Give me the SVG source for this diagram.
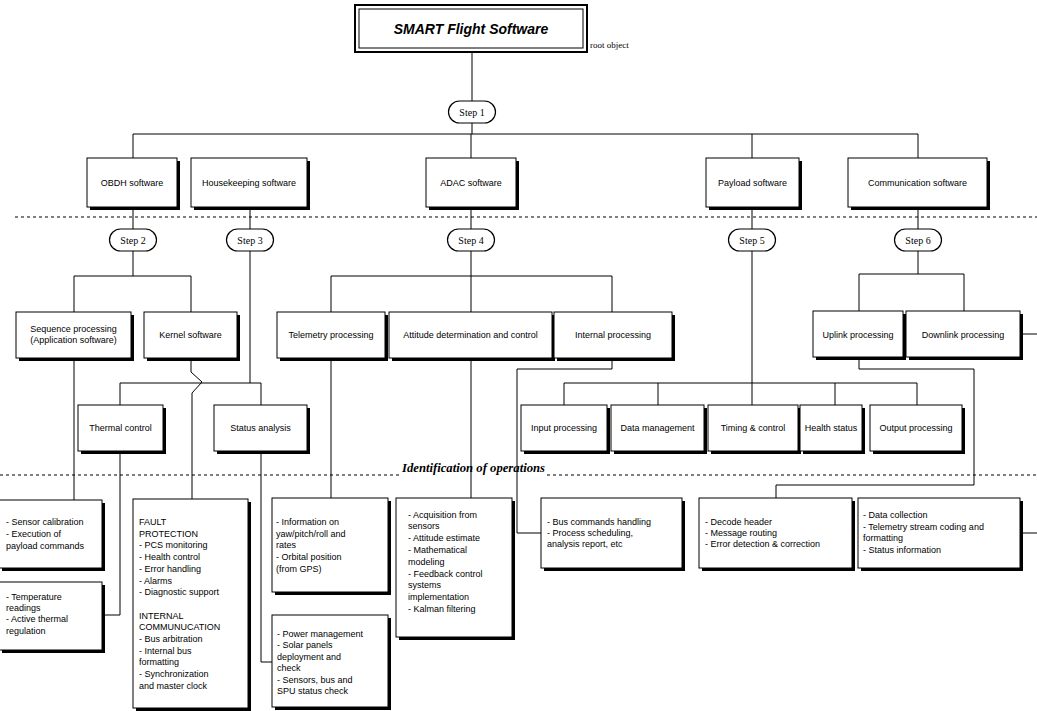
<svg xmlns="http://www.w3.org/2000/svg" width="1037" height="711" viewBox="0 0 1037 711">
<style>
.bx{fill:#fff;stroke:#000;stroke-width:1}
.sh{fill:#000}
.t{font-family:"Liberation Sans",Arial,sans-serif;font-size:9px;fill:#000}
.c{text-anchor:middle}
.st{font-family:"Liberation Serif","Times New Roman",serif;font-size:10px;text-anchor:middle;fill:#000}
.pill{fill:#fff;stroke:#000;stroke-width:1.2}
.ln{fill:none;stroke:#000;stroke-width:1}
.ds{fill:none;stroke:#000;stroke-width:1;stroke-dasharray:3,3}
</style>
<rect width="1037" height="711" fill="#fff"/>

<g id="connectors">
<path class="ln" d="M472 52V101M472 123V134M133 134H918M133 134V158M471 134V158M752 134V158M918 134V158"/>
<path class="ln" d="M133 207V229M250 207V229M471 207V229M752 207V229M918 207V229"/>
<path class="ln" d="M133 251V276M74 312V276H191V312"/>
<path class="ln" d="M250 251V383M120 406V383H261V406"/>
<path class="ln" d="M191 358V372L202 382L192 393V499"/>
<path class="ln" d="M74 358V500M120 451V615H102M261 451V662H272"/>
<path class="ln" d="M471 251V312M331 312V276H612V312"/>
<path class="ln" d="M331 358V498M471 358V498M612 358V369H517V533H541"/>
<path class="ln" d="M752 251V405M564 405V383H917V405M658 383V405M835 383V405"/>
<path class="ln" d="M918 251V274M859 312V274H964V312"/>
<path class="ln" d="M859 357V369H974V485H776V498"/>
<path class="ln" d="M1021 334H1037M1021 533H1037"/>
</g>

<g id="separators">
<path class="ds" d="M15 217H1037"/>
<path class="ds" d="M0 475H401M547 475H1037"/>
<text x="402" y="472" font-family="'Liberation Serif','Times New Roman',serif" font-size="12" font-style="italic" font-weight="bold" textLength="143" lengthAdjust="spacingAndGlyphs">Identification of operations</text>
</g>

<g id="root">
<rect x="355" y="5" width="232" height="47" fill="#fff" stroke="#000" stroke-width="2"/>
<rect x="359" y="9" width="224" height="39" fill="none" stroke="#000" stroke-width="1"/>
<text x="471" y="34" font-family="'Liberation Sans',Arial,sans-serif" font-size="14" font-weight="bold" font-style="italic" text-anchor="middle">SMART Flight Software</text>
<text x="590" y="48" font-family="'Liberation Serif','Times New Roman',serif" font-size="9">root object</text>
</g>

<g id="step1"><rect class="pill" x="448.5" y="101" width="47" height="22" rx="11"/><text class="st" x="472" y="115.5">Step 1</text></g>
<g id="step2"><rect class="pill" x="109.5" y="229" width="47" height="22" rx="11"/><text class="st" x="133" y="243.5">Step 2</text></g>
<g id="step3"><rect class="pill" x="226.5" y="229" width="47" height="22" rx="11"/><text class="st" x="250" y="243.5">Step 3</text></g>
<g id="step4"><rect class="pill" x="447.5" y="229" width="47" height="22" rx="11"/><text class="st" x="471" y="243.5">Step 4</text></g>
<g id="step5"><rect class="pill" x="728.5" y="229" width="47" height="22" rx="11"/><text class="st" x="752" y="243.5">Step 5</text></g>
<g id="step6"><rect class="pill" x="894.5" y="229" width="47" height="22" rx="11"/><text class="st" x="918" y="243.5">Step 6</text></g>

<g id="obdh"><rect class="sh" x="90" y="161" width="90" height="49"/><rect class="bx" x="87" y="158" width="90" height="49"/><text class="t c" x="132" y="186">OBDH software</text></g>
<g id="housekeeping"><rect class="sh" x="194" y="161" width="116" height="49"/><rect class="bx" x="191" y="158" width="116" height="49"/><text class="t c" x="249" y="186">Housekeeping software</text></g>
<g id="adac"><rect class="sh" x="429" y="161" width="90" height="49"/><rect class="bx" x="426" y="158" width="90" height="49"/><text class="t c" x="471" y="186">ADAC software</text></g>
<g id="payload"><rect class="sh" x="709" y="161" width="93" height="49"/><rect class="bx" x="706" y="158" width="93" height="49"/><text class="t c" x="752.5" y="186">Payload software</text></g>
<g id="communication"><rect class="sh" x="851" y="161" width="139" height="49"/><rect class="bx" x="848" y="158" width="139" height="49"/><text class="t c" x="917.5" y="186">Communication software</text></g>

<g id="sequence"><rect class="sh" x="19" y="315" width="115" height="46"/><rect class="bx" x="16" y="312" width="115" height="46"/><text class="t c" x="73.5" y="332">Sequence processing<tspan x="73.5" dy="11">(Application software)</tspan></text></g>
<g id="kernel"><rect class="sh" x="147" y="315" width="93" height="46"/><rect class="bx" x="144" y="312" width="93" height="46"/><text class="t c" x="190.5" y="338">Kernel software</text></g>
<g id="telemetry"><rect class="sh" x="280" y="315" width="108" height="46"/><rect class="bx" x="277" y="312" width="108" height="46"/><text class="t c" x="331" y="338">Telemetry processing</text></g>
<g id="attitude"><rect class="sh" x="392" y="315" width="163" height="46"/><rect class="bx" x="389" y="312" width="163" height="46"/><text class="t c" x="470.5" y="338">Attitude determination and control</text></g>
<g id="internal"><rect class="sh" x="557" y="315" width="118" height="46"/><rect class="bx" x="554" y="312" width="118" height="46"/><text class="t c" x="613" y="338">Internal processing</text></g>
<g id="uplink"><rect class="sh" x="816" y="314" width="90" height="46"/><rect class="bx" x="813" y="311" width="90" height="46"/><text class="t c" x="858" y="337.5">Uplink processing</text></g>
<g id="downlink"><rect class="sh" x="909" y="314" width="114" height="46"/><rect class="bx" x="906" y="311" width="114" height="46"/><text class="t c" x="963" y="337.5">Downlink processing</text></g>

<g id="thermal"><rect class="sh" x="81" y="408" width="85" height="46"/><rect class="bx" x="78" y="405" width="85" height="46"/><text class="t c" x="120.5" y="431">Thermal control</text></g>
<g id="status"><rect class="sh" x="217" y="408" width="93" height="46"/><rect class="bx" x="214" y="405" width="93" height="46"/><text class="t c" x="260.5" y="431">Status analysis</text></g>
<g id="input"><rect class="sh" x="524" y="408" width="86" height="46"/><rect class="bx" x="521" y="405" width="86" height="46"/><text class="t c" x="564" y="431">Input processing</text></g>
<g id="datamgmt"><rect class="sh" x="614" y="408" width="93" height="46"/><rect class="bx" x="611" y="405" width="93" height="46"/><text class="t c" x="657.5" y="431">Data management</text></g>
<g id="timing"><rect class="sh" x="711" y="408" width="90" height="46"/><rect class="bx" x="708" y="405" width="90" height="46"/><text class="t c" x="753" y="431">Timing &amp; control</text></g>
<g id="health"><rect class="sh" x="803" y="408" width="62" height="46"/><rect class="bx" x="800" y="405" width="62" height="46"/><text class="t c" x="831" y="431">Health status</text></g>
<g id="output"><rect class="sh" x="873" y="408" width="92" height="46"/><rect class="bx" x="870" y="405" width="92" height="46"/><text class="t c" x="916" y="431">Output processing</text></g>

<g id="sensor"><rect class="sh" x="2" y="503" width="103" height="68"/><rect class="bx" x="-1" y="500" width="103" height="68"/><text class="t" x="6" y="525">- Sensor calibration<tspan x="6" dy="12">- Execution of</tspan><tspan x="6" dy="12">payload commands</tspan></text></g>
<g id="temperature"><rect class="sh" x="2" y="585" width="103" height="68"/><rect class="bx" x="-1" y="582" width="103" height="68"/><text class="t" x="6" y="600">- Temperature<tspan x="6" dy="11.2">readings</tspan><tspan x="6" dy="11.2">- Active thermal</tspan><tspan x="6" dy="11.2">regulation</tspan></text></g>
<g id="fault"><rect class="sh" x="136" y="502" width="115" height="209"/><rect class="bx" x="133" y="499" width="115" height="209"/><text class="t" x="139" y="525">FAULT<tspan x="139" dy="11.7">PROTECTION</tspan><tspan x="139" dy="11.7">- PCS monitoring</tspan><tspan x="139" dy="11.7">- Health control</tspan><tspan x="139" dy="11.7">- Error handling</tspan><tspan x="139" dy="11.7">- Alarms</tspan><tspan x="139" dy="11.7">- Diagnostic support</tspan><tspan x="139" dy="23.4">INTERNAL</tspan><tspan x="139" dy="11.7">COMMUNUCATION</tspan><tspan x="139" dy="11.7">- Bus arbitration</tspan><tspan x="139" dy="11.7">- Internal bus</tspan><tspan x="139" dy="11.7">formatting</tspan><tspan x="139" dy="11.7">- Synchronization</tspan><tspan x="139" dy="11.7">and master clock</tspan></text></g>
<g id="information"><rect class="sh" x="275" y="501" width="116" height="94"/><rect class="bx" x="272" y="498" width="116" height="94"/><text class="t" x="276" y="525">- Information on<tspan x="276" dy="11.7">yaw/pitch/roll and</tspan><tspan x="276" dy="11.7">rates</tspan><tspan x="276" dy="11.7">- Orbital position</tspan><tspan x="276" dy="11.7">(from GPS)</tspan></text></g>
<g id="power"><rect class="sh" x="275" y="618" width="116" height="92"/><rect class="bx" x="272" y="615" width="116" height="92"/><text class="t" x="277" y="636.5">- Power management<tspan x="277" dy="11.5">- Solar panels</tspan><tspan x="277" dy="11.5">deployment and</tspan><tspan x="277" dy="11.5">check</tspan><tspan x="277" dy="11.5">- Sensors, bus and</tspan><tspan x="277" dy="11.5">SPU status check</tspan></text></g>
<g id="acquisition"><rect class="sh" x="399" y="501" width="116" height="139"/><rect class="bx" x="396" y="498" width="116" height="139"/><text class="t" x="408" y="517.5">- Acquisition from<tspan x="408" dy="11.8">sensors</tspan><tspan x="408" dy="11.8">- Attitude estimate</tspan><tspan x="408" dy="11.8">- Mathematical</tspan><tspan x="408" dy="11.8">modeling</tspan><tspan x="408" dy="11.8">- Feedback control</tspan><tspan x="408" dy="11.8">systems</tspan><tspan x="408" dy="11.8">implementation</tspan><tspan x="408" dy="11.8">- Kalman filtering</tspan></text></g>
<g id="bus"><rect class="sh" x="544" y="501" width="141" height="70"/><rect class="bx" x="541" y="498" width="141" height="70"/><text class="t" x="547" y="525">- Bus commands handling<tspan x="547" dy="11">- Process scheduling,</tspan><tspan x="547" dy="11">analysis report, etc</tspan></text></g>
<g id="decode"><rect class="sh" x="702" y="501" width="153" height="70"/><rect class="bx" x="699" y="498" width="153" height="70"/><text class="t" x="705" y="525">- Decode header<tspan x="705" dy="11.2">- Message routing</tspan><tspan x="705" dy="11.2">- Error detection &amp; correction</tspan></text></g>
<g id="datacollection"><rect class="sh" x="861" y="501" width="162" height="70"/><rect class="bx" x="858" y="498" width="162" height="70"/><text class="t" x="863" y="518">- Data collection<tspan x="863" dy="11.7">- Telemetry stream coding and</tspan><tspan x="863" dy="11.7">formatting</tspan><tspan x="863" dy="11.7">- Status information</tspan></text></g>
</svg>
